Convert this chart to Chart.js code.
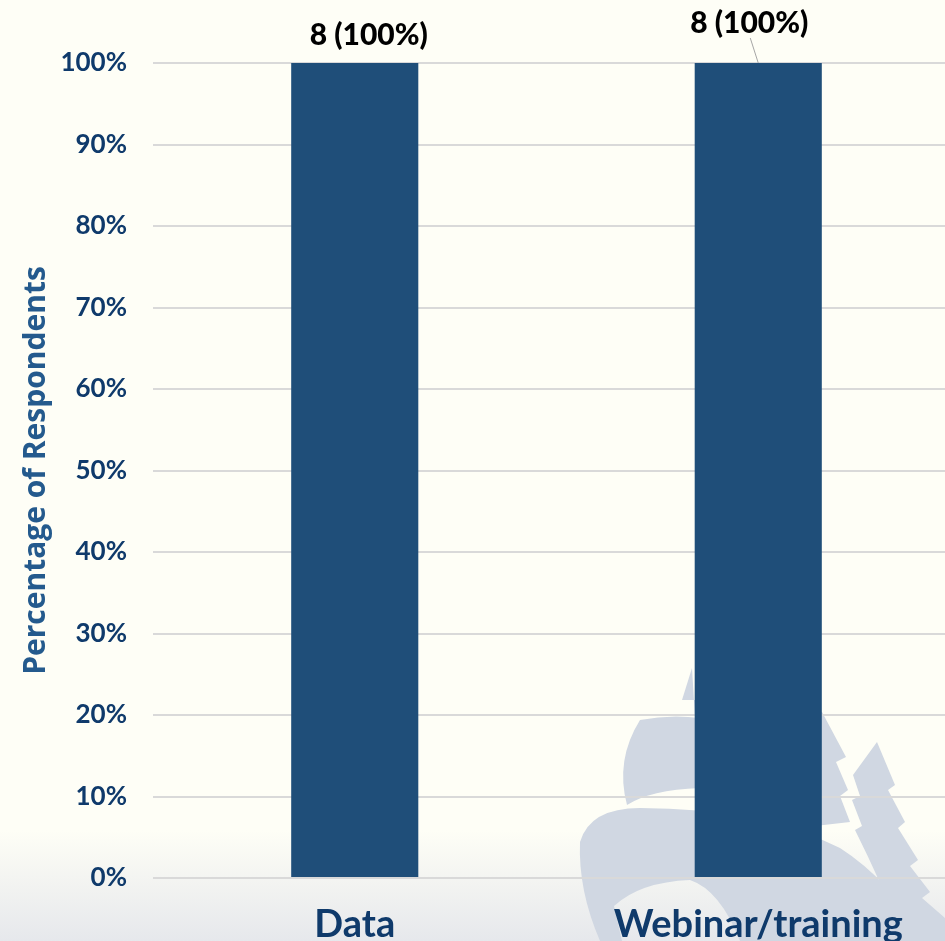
<!DOCTYPE html>
<html>
<head>
<meta charset="utf-8">
<script src="https://cdn.jsdelivr.net/npm/chart.js@4.4.1/dist/chart.umd.min.js"></script>
<style>
  html, body { margin: 0; padding: 0; overflow: hidden; background: #fefef6; }
  #wrap { width: 960px; height: 941px; }
</style>
</head>
<body>
<div id="wrap"><canvas id="chart" width="960" height="941"></canvas></div>
<script>
const categories = ['Data', 'Webinar/training'];
const counts = [8, 8];
const percents = [100, 100];
const yTickValues = [0, 10, 20, 30, 40, 50, 60, 70, 80, 90, 100];

const NAVY = '#0f3a6b';
const BAR = '#1f4e79';

// background + faint logo watermark behind the plot
const backdrop = {
  id: 'backdrop',
  beforeDraw(chart) {
    const ctx = chart.ctx;
    const w = chart.width, h = chart.height;
    ctx.save();
    ctx.fillStyle = '#fefef6';
    ctx.fillRect(0, 0, w, h);
    const g = ctx.createLinearGradient(0, 830, 0, h);
    g.addColorStop(0, '#fefef6');
    g.addColorStop(1, '#e6e8ec');
    ctx.fillStyle = g;
    ctx.fillRect(0, 830, w, h - 830);

    ctx.fillStyle = '#d0d7e2';
    // top sail
    ctx.beginPath();
    ctx.moveTo(692, 668);
    ctx.lineTo(682, 700);
    ctx.lineTo(700, 700);
    ctx.lineTo(760, 700);
    ctx.lineTo(822, 712);
    ctx.lineTo(846, 757);
    ctx.lineTo(836, 762);
    ctx.lineTo(848, 790);
    ctx.lineTo(840, 796);
    ctx.lineTo(850, 822);
    ctx.lineTo(780, 830);
    ctx.lineTo(700, 800);
    ctx.closePath();
    ctx.fill();
    // middle sail
    ctx.beginPath();
    ctx.moveTo(640, 720);
    ctx.quadraticCurveTo(670, 714, 700, 718);
    ctx.lineTo(700, 788);
    ctx.quadraticCurveTo(650, 790, 627, 805);
    ctx.quadraticCurveTo(615, 760, 640, 720);
    ctx.closePath();
    ctx.fill();
    // bottom sail
    ctx.beginPath();
    ctx.moveTo(580, 842);
    ctx.quadraticCurveTo(590, 808, 640, 808);
    ctx.quadraticCurveTo(760, 808, 840, 848);
    ctx.quadraticCurveTo(890, 880, 925, 941);
    ctx.lineTo(740, 941);
    ctx.quadraticCurveTo(720, 890, 690, 880);
    ctx.quadraticCurveTo(640, 882, 614, 906);
    ctx.lineTo(622, 941);
    ctx.lineTo(600, 941);
    ctx.quadraticCurveTo(578, 890, 580, 842);
    ctx.closePath();
    ctx.fill();
    // tree
    ctx.beginPath();
    ctx.moveTo(877, 742);
    ctx.lineTo(895, 785);
    ctx.lineTo(888, 790);
    ctx.lineTo(905, 822);
    ctx.lineTo(898, 828);
    ctx.lineTo(918, 860);
    ctx.lineTo(910, 866);
    ctx.lineTo(930, 892);
    ctx.lineTo(922, 898);
    ctx.lineTo(945, 918);
    ctx.lineTo(945, 941);
    ctx.lineTo(905, 941);
    ctx.quadraticCurveTo(880, 880, 855, 830);
    ctx.lineTo(862, 826);
    ctx.lineTo(852, 800);
    ctx.lineTo(860, 796);
    ctx.lineTo(853, 775);
    ctx.closePath();
    ctx.fill();
    ctx.restore();
  }
};

// "n (p%)" labels above the bars
const barLabels = {
  id: 'barLabels',
  afterDatasetsDraw(chart, args, opts) {
    const ctx = chart.ctx;
    const meta = chart.getDatasetMeta(0);
    ctx.save();
    ctx.font = '900 30px Lato';
    ctx.fillStyle = '#000';
    ctx.textAlign = 'center';
    ctx.textBaseline = 'middle';
    meta.data.forEach((bar, i) => {
      const off = opts.offsets[i];
      const x = bar.x + off.dx;
      const y = bar.y - off.dy;
      if (off.leader) {
        ctx.strokeStyle = '#a6a6a6';
        ctx.lineWidth = 1;
        ctx.beginPath();
        ctx.moveTo(x + 1, y + 15);
        ctx.lineTo(bar.x, bar.y);
        ctx.stroke();
      }
      ctx.fillText(counts[i] + ' (' + percents[i] + '%)', x, y);
    });
    ctx.restore();
  }
};

new Chart(document.getElementById('chart'), {
  type: 'bar',
  data: {
    labels: categories,
    datasets: [{
      data: percents,
      backgroundColor: BAR,
      barPercentage: 0.315,
      categoryPercentage: 1,
    }],
  },
  options: {
    responsive: false,
    animation: false,
    layout: { padding: { top: 63, left: 18, right: 0, bottom: 0 } },
    scales: {
      x: {
        grid: { display: false },
        border: { display: false },
        ticks: {
          color: NAVY,
          padding: 16,
          font: { family: 'Lato', size: 38, weight: 'bold' },
        },
        afterFit(scale) { scale.height = 63; },
      },
      y: {
        min: 0,
        max: 100,
        afterBuildTicks(scale) { scale.ticks = yTickValues.map(v => ({ value: v })); },
        grid: { color: '#d9d9d9', lineWidth: 2, drawTicks: false },
        border: { display: false },
        ticks: {
          color: NAVY,
          padding: 26,
          font: { family: 'Lato', size: 26, weight: 'bold' },
          callback: v => v + '%',
        },
        title: {
          display: true,
          text: 'Percentage of Respondents',
          color: '#245a8d',
          padding: 0,
          font: { family: 'Open Sans', size: 30, weight: 'bold' },
        },
        afterFit(scale) { scale.width = 135; },
      },
    },
    plugins: {
      legend: { display: false },
      tooltip: { enabled: false },
      barLabels: {
        offsets: [{ dx: 14, dy: 28 }, { dx: -9, dy: 40, leader: true }],
      },
    },
  },
  plugins: [backdrop, barLabels],
});
</script>
</body>
</html>
